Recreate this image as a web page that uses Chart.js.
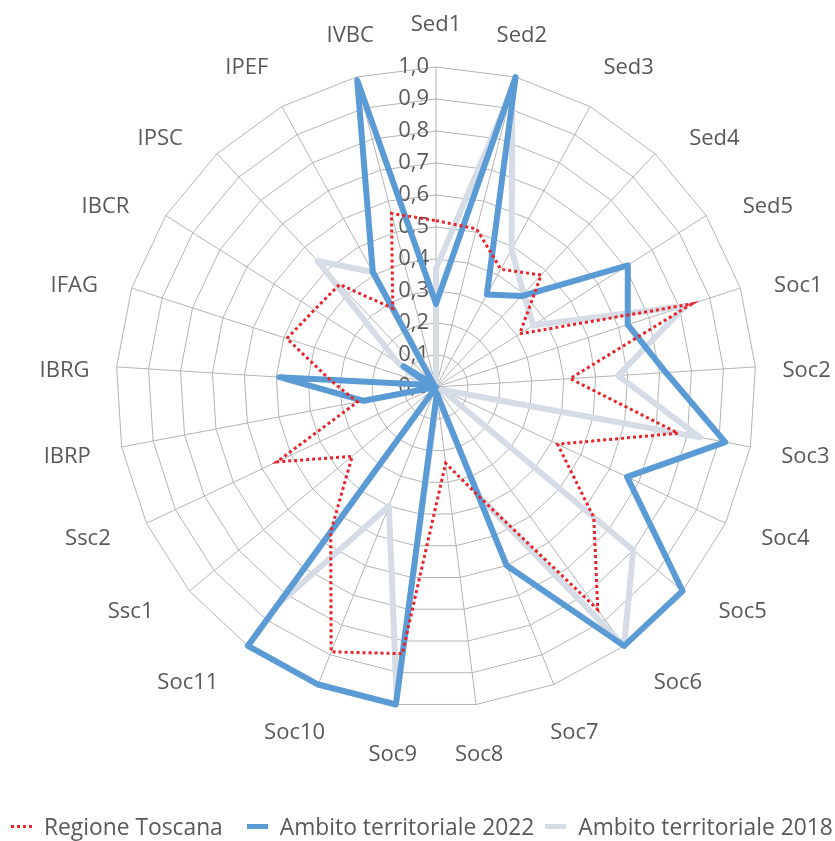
<!DOCTYPE html>
<html><head><meta charset="utf-8">
<script src="https://cdn.jsdelivr.net/npm/chart.js@4.4.1/dist/chart.umd.min.js"></script>
<style>
html,body{margin:0;padding:0;background:#fff;}
#wrap{position:relative;width:835px;height:841px;overflow:hidden;}
#legend{position:absolute;left:11px;top:811px;height:30px;display:flex;align-items:center;font-family:'Open Sans';font-size:22.8px;color:#595959;white-space:nowrap;}
.item{display:flex;align-items:center;}
.mk{width:21px;margin-right:12px;flex:none;}
</style></head><body>
<div id="wrap"><canvas id="c"></canvas><div id="legend"></div></div>
<script>
const categories = ['Sed1','Sed2','Sed3','Sed4','Sed5','Soc1','Soc2','Soc3','Soc4','Soc5','Soc6','Soc7','Soc8','Soc9','Soc10','Soc11','Ssc1','Ssc2','IBRP','IBRG','IFAG','IBCR','IPSC','IPEF','IVBC'];
const regioneToscana = [0.52,0.51,0.42,0.48,0.31,0.84,0.42,0.77,0.42,0.64,0.86,0.37,0.24,0.84,0.89,0.56,0.34,0.55,0.25,0.33,0.49,0.45,0.44,0.28,0.56];
const ambito2022 = [0.26,1.0,0.33,0.39,0.71,0.63,0.72,0.92,0.66,1.0,1.0,0.60,0.02,1.0,1.0,1.0,0.0,0.0,0.23,0.49,0.02,0.12,0.01,0.41,0.99];
const ambito2018 = [0.37,0.96,0.49,0.40,0.36,0.82,0.57,0.84,0.02,0.80,1.0,0.37,0.03,0.98,0.40,0.84,0.0,0.0,0.02,0.03,0.05,0.14,0.54,0.41,0.0];
const seriesNames = ['Regione Toscana','Ambito territoriale 2022','Ambito territoriale 2018'];
const tickValues = [0,0.1,0.2,0.3,0.4,0.5,0.6,0.7,0.8,0.9,1.0];
const tickLabels = ['0,0','0,1','0,2','0,3','0,4','0,5','0,6','0,7','0,8','0,9','1,0'];

const seriesColors = ['#e8232a','#5b9bd5','#d6dce5'];
const legendGaps = [24, 11, 0];
const FONT = '22px "Open Sans"';
const TEXT = '#595959';
const clamp01 = v => Math.max(0, Math.min(1, v));

const labelPlugin = {
  id: 'excelLabels',
  beforeDatasetsDraw(chart) {
    const s = chart.scales.r, ctx = chart.ctx;
    ctx.save();
    ctx.font = FONT; ctx.fillStyle = TEXT;
    ctx.textAlign = 'right'; ctx.textBaseline = 'middle';
    tickValues.forEach((v, i) => {
      const d = s.getDistanceFromCenterForValue(v);
      ctx.fillText(tickLabels[i], s.xCenter - 7, s.yCenter - d);
    });
    ctx.textAlign = 'center';
    const D = s.drawingArea + 25;
    categories.forEach((lab, i) => {
      const th = s.getIndexAngle(i);
      const sn = Math.sin(th), cs = Math.cos(th);
      const w = ctx.measureText(lab).width;
      const sx = clamp01((Math.abs(sn) - 0.25) / 0.25);
      const t = clamp01((Math.abs(sn) - 0.45) / 0.15);
      const ox = Math.sign(sn) * (sx * w / 2 + 17 * Math.abs(Math.sin(2 * th)) * t);
      const cy = clamp01((Math.abs(cs) - 0.72) / 0.15);
      const oy = (cs > 0 ? -20 : 22) * cy + 2 * (1 - cy) + 3;
      ctx.fillText(lab, s.xCenter + D * sn + ox, s.yCenter - D * cs + oy);
    });
    ctx.restore();
  }
};

new Chart(document.getElementById('c'), {
  type: 'radar',
  data: {
    labels: categories,
    datasets: [
      {label: seriesNames[0], data: regioneToscana, borderColor: seriesColors[0], borderWidth: 3, borderDash: [3,3], fill: false, pointRadius: 0},
      {label: seriesNames[1], data: ambito2022, borderColor: seriesColors[1], borderWidth: 6, borderJoinStyle: 'round', fill: false, pointRadius: 0},
      {label: seriesNames[2], data: ambito2018, borderColor: seriesColors[2], borderWidth: 6, borderJoinStyle: 'round', fill: false, pointRadius: 0}
    ]
  },
  options: {
    responsive: true, maintainAspectRatio: false, animation: false,
    layout: {padding: {left: 37, right: 0, top: 67, bottom: 134}},
    plugins: {legend: {display: false}, tooltip: {enabled: false}},
    elements: {line: {tension: 0}},
    scales: {
      r: {
        min: 0, max: 1,
        ticks: {display: false, stepSize: 0.1},
        grid: {color: '#b4b4b4', lineWidth: 1},
        angleLines: {color: '#b4b4b4', lineWidth: 1},
        pointLabels: {display: false}
      }
    }
  },
  plugins: [labelPlugin]
});

const lg = document.getElementById('legend');
seriesNames.forEach((n, i) => {
  const it = document.createElement('div'); it.className = 'item';
  it.style.marginRight = legendGaps[i] + 'px';
  const mk = document.createElement('span'); mk.className = 'mk';
  if (i === 0) { mk.style.height = '3px'; mk.style.background = 'repeating-linear-gradient(90deg,' + seriesColors[0] + ' 0 3px, transparent 3px 6px)'; }
  else { mk.style.height = '5px'; mk.style.background = seriesColors[i]; }
  const tx = document.createElement('span'); tx.textContent = n;
  it.appendChild(mk); it.appendChild(tx); lg.appendChild(it);
});
</script>
</body></html>
